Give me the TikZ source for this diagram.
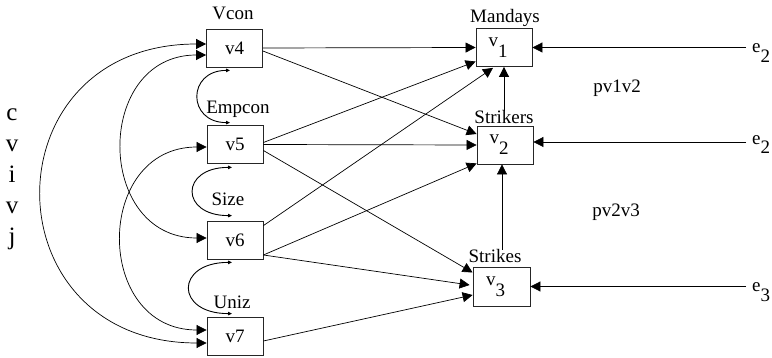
\documentclass[tikz,border=0pt]{standalone}
\usepackage{fontspec}
\setmainfont{Liberation Serif}
\usetikzlibrary{arrows.meta}

% variable name with a lowered index of full size
\newcommand\lowidx[2]{#1\lower11pt\hbox{#2}\kern12pt}

\begin{document}
\begin{tikzpicture}[x=1pt,y=-1pt,
  var/.style={draw=black!85, line width=0.8pt, minimum width=56pt,
    minimum height=38pt, inner sep=0pt, font=\fontsize{19}{22}\selectfont},
  lbl/.style={inner sep=0pt, anchor=base, font=\fontsize{19}{22}\selectfont},
  errlbl/.style={inner sep=0pt, inner xsep=6pt, anchor=base west,
    font=\fontsize{19}{22}\selectfont},
  side/.style={inner sep=0pt, anchor=base, font=\fontsize{25}{30}\selectfont},
  causal/.style={line width=0.7pt, -{Triangle[length=10pt,width=10pt]}},
  cov/.style={line width=0.7pt,
    {Triangle[length=10pt,width=10pt]}-{Triangle[length=10pt,width=10pt]}},
  covs/.style={line width=0.9pt,
    {Triangle[length=4pt,width=3.5pt]}-{Triangle[length=4pt,width=3.5pt]}},
]
\useasboundingbox (0,0) rectangle (772,358);

% exogenous variables
\node[var] (v4) at (234.5,48) {v4};
\node[var] (v5) at (235,144.5) {v5};
\node[var] (v6) at (235,240) {v6};
\node[var] (v7) at (235,336) {v7};

% endogenous variables
\node[var] (v1) at (504,47.5) {\lowidx{v}{1}};
\node[var] (v2) at (505,145) {\lowidx{v}{2}};
\node[var, minimum width=57pt, minimum height=39pt] (v3) at (501.5,286.5) {\lowidx{v}{3}};

% variable labels
\node[lbl] (lvcon) at (233,20) {Vcon};
\node[lbl] (lempcon) at (238,114) {Empcon};
\node[lbl] (lsize) at (228,206) {Size};
\node[lbl] (luniz) at (232,309) {Uniz};
\node[lbl] (lmandays) at (505,23) {Mandays};
\node[lbl] (lstrikers) at (504,124) {Strikers};
\node[lbl] (lstrikes) at (495,263) {Strikes};

% path coefficient labels
\node[lbl] (p12) at (617,93) {pv1v2};
\node[lbl] (p23) at (616,217) {pv2v3};

% error terms
\node[errlbl] (e1) at (746,53) {e\lower10pt\hbox{2}};
\node[errlbl] (e2) at (746,145) {e\lower9pt\hbox{2}};
\node[errlbl] (e3) at (746,292) {e\lower10pt\hbox{3}};

% vertical caption on the left
\node[side] (s1) at (12,121) {c};
\node[side] (s2) at (12,152) {v};
\node[side] (s3) at (12,183) {i};
\node[side] (s4) at (12,214) {v};
\node[side] (s5) at (12,245) {j};

% direct effects
\draw[causal] (v4.east) -- (v1.west);
\draw[causal] ([yshift=-3pt]v4.east) -- ([yshift=11pt]v2.west);
\draw[causal] ([yshift=2pt]v5.east) -- ([yshift=-14pt]v1.west);
\draw[causal] (v5.east) -- (v2.west);
\draw[causal] ([yshift=-6pt]v5.east) -- ([yshift=14pt]v3.west);
\draw[causal] ([yshift=-5pt]v6.north east) -- ([xshift=-11pt,yshift=-1pt]v1.south);
\draw[causal] ([yshift=-15pt]v6.east) -- ([yshift=1pt]v2.south west);
\draw[causal] ([yshift=-15pt]v6.east) -- ([xshift=-3pt,yshift=1.5pt]v3.west);
\draw[causal] ([yshift=-5pt]v7.east) -- ([yshift=-8.5pt]v3.west);

% effects between endogenous variables
\draw[causal] (lstrikers.north -| v1.south) -- (v1.south);
\coordinate (t23) at ([xshift=-3pt]v2.south);
\draw[causal] (lstrikes.north -| t23) -- (t23);

% disturbances
\draw[causal] (e1.west |- v1.east) -- (v1.east);
\coordinate (a2) at ([yshift=3pt]v2.east);
\draw[causal] (e2.west |- a2) -- (a2);
\draw[causal] (e3.west |- v3.east) -- (v3.east);

% covariances between exogenous variables
\draw[cov] ([yshift=4pt]v4.west) .. controls +(-219,0) and +(-219,0) .. ([yshift=-7pt]v7.west);
\draw[cov] ([yshift=-7pt]v4.west) .. controls +(-112,0) and +(-112,0) .. ([yshift=2pt]v6.west);
\draw[cov] ([yshift=-2.5pt]v5.west) .. controls +(-113,0) and +(-113,0) .. ([yshift=6pt]v7.west);

\draw[covs] ([xshift=-4.5pt,yshift=-3pt]v4.south) .. controls +(-43,0) and +(-43,0) .. ([xshift=-5pt,yshift=2.5pt]v5.north);
\draw[covs] ([xshift=-3pt,yshift=-3.5pt]v5.south) .. controls +(-52,0) and +(-52,0) .. ([xshift=-3pt,yshift=5pt]v6.north);
\draw[covs] ([xshift=-3pt,yshift=-3pt]v6.south) .. controls +(-57,0) and +(-57,0) .. ([xshift=-3pt,yshift=3pt]v7.north);
\end{tikzpicture}
\end{document}
